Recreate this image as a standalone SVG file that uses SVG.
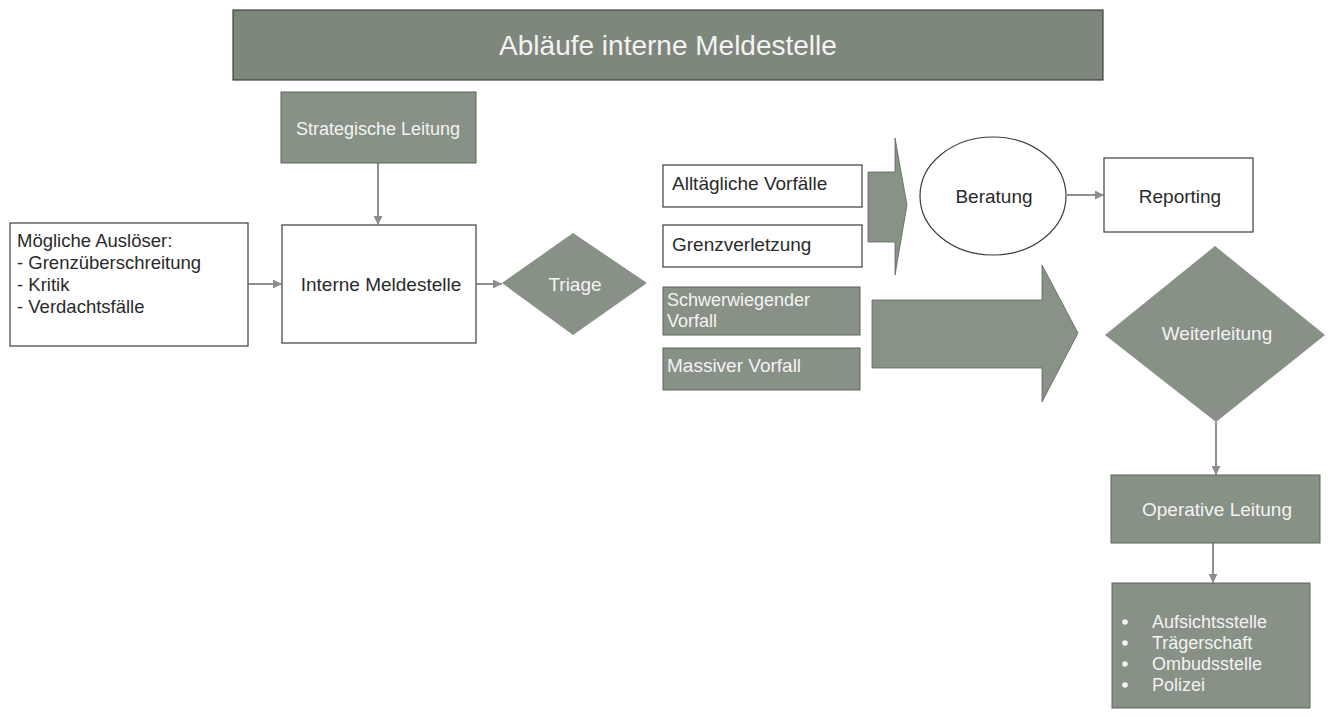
<svg xmlns="http://www.w3.org/2000/svg" width="1332" height="724" viewBox="0 0 1332 724">
<defs>
<style>
text{font-family:"Liberation Sans",Arial,sans-serif;font-size:19px;fill:#2a2a2a}
.w{fill:#f3f3f3}
.c{text-anchor:middle}
.m{font-size:18px}
.box{fill:#ffffff;stroke:#3c3c3c;stroke-width:1.2}
.gbox{fill:#879185;stroke:#5e645c;stroke-width:1}
.dia{fill:#879185;stroke:none}
.blk{fill:#889286;stroke:#5e645c;stroke-width:0.8}
.con{stroke:#6a6a6a;stroke-width:1.5;fill:none;marker-end:url(#ah)}
</style>
<marker id="ah" viewBox="0 0 10 10" refX="10" refY="5" markerWidth="10" markerHeight="9" markerUnits="userSpaceOnUse" orient="auto">
<path d="M0,0 L10,5 L0,10 Z" fill="#8a8f89"/>
</marker>
</defs>
<rect width="1332" height="724" fill="#ffffff"/>

<g id="title">
<rect x="233" y="10" width="870" height="70" fill="#7d877b" stroke="#3f443e" stroke-width="1.2"/>
<text x="668" y="55" class="w c" style="font-size:28px">Abläufe interne Meldestelle</text>
</g>

<g id="strategische-leitung">
<rect class="gbox" x="281" y="92" width="195" height="71"/>
<text x="378" y="135" class="w c" style="font-size:18px">Strategische Leitung</text>
</g>

<g id="ausloeser">
<rect class="box" x="10" y="223" width="238" height="123"/>
<text x="17" y="247" style="font-size:18.5px">Mögliche Auslöser:</text>
<text x="17" y="269" style="font-size:18.5px">- Grenzüberschreitung</text>
<text x="17" y="291" style="font-size:18.5px">- Kritik</text>
<text x="17" y="313" style="font-size:18.5px">- Verdachtsfälle</text>
</g>

<g id="interne-meldestelle">
<rect class="box" x="282" y="225" width="194" height="118"/>
<text x="381" y="291" class="c">Interne Meldestelle</text>
</g>

<g id="triage">
<polygon class="dia" points="502,283 573,233 647,283 573,335"/>
<text x="575" y="291" class="w c">Triage</text>
</g>

<g id="alltaegliche">
<rect class="box" x="663" y="165" width="199" height="42"/>
<text x="672" y="190">Alltägliche Vorfälle</text>
</g>

<g id="grenzverletzung">
<rect class="box" x="663" y="225" width="199" height="42"/>
<text x="672" y="251">Grenzverletzung</text>
</g>

<g id="schwerwiegend">
<rect class="gbox" x="663" y="287" width="197" height="48"/>
<text x="667" y="306" class="w m">Schwerwiegender</text>
<text x="667" y="327" class="w m">Vorfall</text>
</g>

<g id="massiv">
<rect class="gbox" x="663" y="348" width="197" height="42"/>
<text x="667" y="372" class="w">Massiver Vorfall</text>
</g>

<g id="beratung">
<ellipse cx="993" cy="196" rx="73" ry="59" fill="#ffffff" stroke="#3c3c3c" stroke-width="1.2"/>
<text x="994" y="203" class="c">Beratung</text>
</g>

<g id="reporting">
<rect class="box" x="1104" y="158" width="149" height="74"/>
<text x="1180" y="203" class="c">Reporting</text>
</g>

<g id="weiterleitung">
<polygon class="dia" points="1105,335 1215,246 1325,335 1216,422"/>
<text x="1217" y="340" class="w c">Weiterleitung</text>
</g>

<g id="operative-leitung">
<rect class="gbox" x="1111" y="475" width="209" height="68"/>
<text x="1217" y="516" class="w c">Operative Leitung</text>
</g>

<g id="stellen">
<rect class="gbox" x="1112" y="583" width="198" height="125"/>
<circle cx="1125" cy="622" r="2.8" fill="#f3f3f3"/>
<circle cx="1125" cy="643" r="2.8" fill="#f3f3f3"/>
<circle cx="1125" cy="664" r="2.8" fill="#f3f3f3"/>
<circle cx="1125" cy="685" r="2.8" fill="#f3f3f3"/>
<text x="1152" y="628" class="w m">Aufsichtsstelle</text>
<text x="1152" y="649" class="w m">Trägerschaft</text>
<text x="1152" y="670" class="w m">Ombudsstelle</text>
<text x="1152" y="691" class="w m">Polizei</text>
</g>

<g id="connectors">
<line class="con" x1="378" y1="163" x2="378" y2="225"/>
<line class="con" x1="248" y1="284" x2="282" y2="284"/>
<line class="con" x1="476" y1="284" x2="502" y2="284"/>
<line class="con" x1="1067" y1="195" x2="1104" y2="195"/>
<line class="con" x1="1216" y1="422" x2="1216" y2="475"/>
<line class="con" x1="1213" y1="543" x2="1213" y2="583"/>
<polygon class="blk" points="868,172 895,172 895,138 907,205 895,275 895,242 868,242"/>
<polygon class="blk" points="872,300 1042,300 1042,265 1078,333 1042,402 1042,368 872,368"/>
</g>
</svg>
